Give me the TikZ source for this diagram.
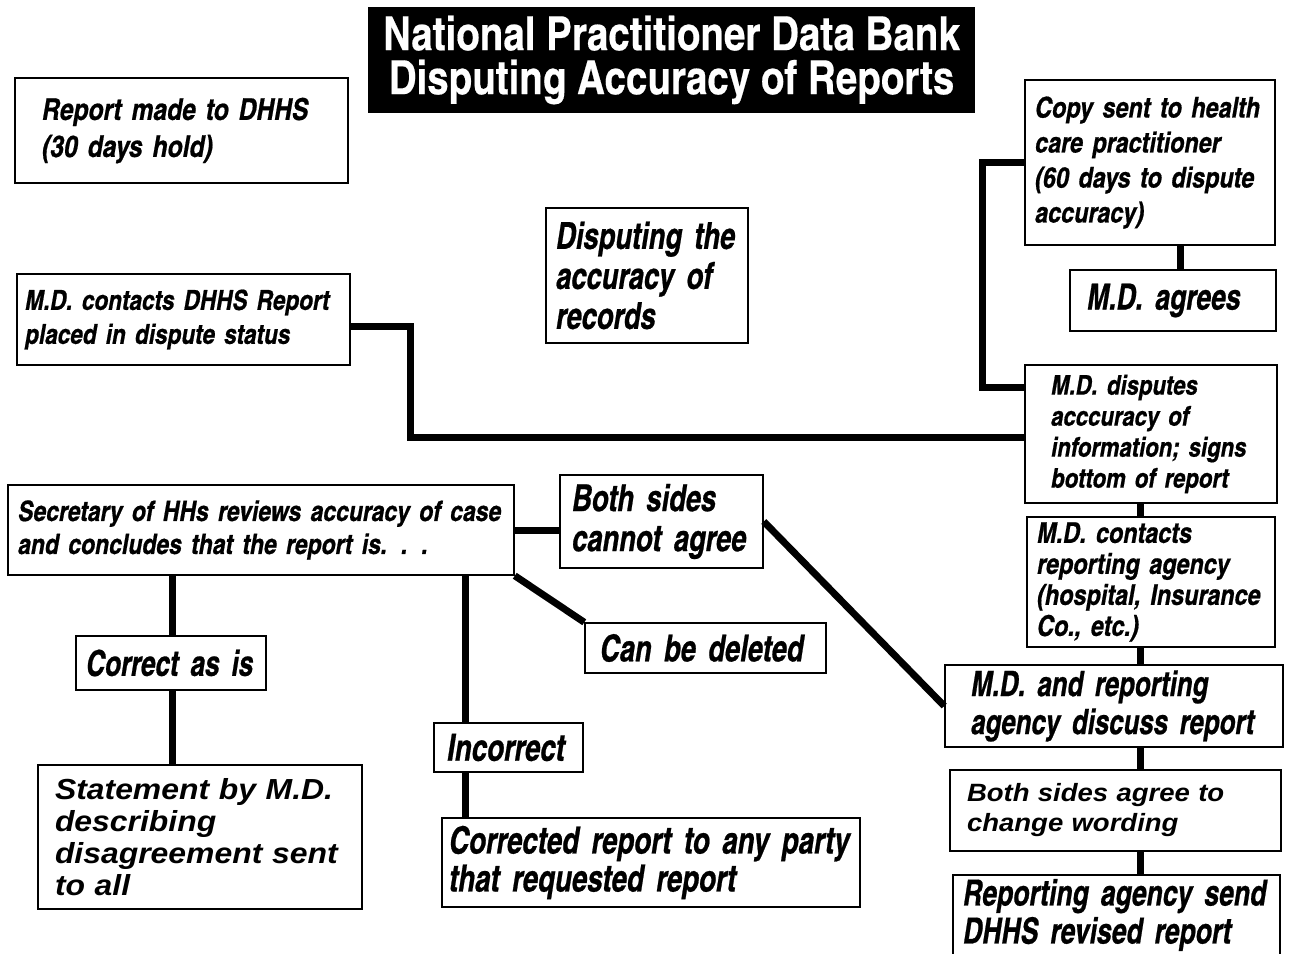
\documentclass[tikz,border=0pt]{standalone}
\usepackage{fontspec}
\newfontfamily\condit{texgyreheroscn-bolditalic.otf}[FakeBold=0.6]
\newfontfamily\condbig{texgyreheroscn-bolditalic.otf}[FakeStretch=0.9, FakeBold=0.6]
\newfontfamily\condup{texgyreheroscn-bold.otf}[FakeBold=0.4]
\newfontfamily\wideit{Liberation Sans Bold Italic}[FakeStretch=1.1]
\tikzset{
  box/.style={draw, line width=1.5pt, align=left, inner ysep=2pt},
  sm/.style 2 args={font=\condit\fontsize{#1}{#2}\selectfont},
  lg/.style 2 args={font=\condbig\fontsize{#1}{#2}\selectfont},
  wd/.style 2 args={font=\wideit\fontsize{#1}{#2}\selectfont},
  link/.style={line width=7pt},
}
\begin{document}
\begin{tikzpicture}[x=1pt, y=-1pt]
      \useasboundingbox (0,0) rectangle (1289,953);
      \node (title)[fill=black, text=white, align=center, minimum width=607, minimum height=106, font=\condup\fontsize{47}{44}\selectfont] at (671.5,60) {National Practitioner Data Bank\\Disputing Accuracy of Reports};
      % left column
      \node (rep)[box, sm={30}{37}, inner xsep=27, text width=279, minimum height=105] at (181.5,130.5) {Report made to DHHS\\(30 days hold)};
      \node (mdc)[box, sm={27.5}{34}, inner xsep=8, text width=317, minimum height=91] at (183.5,319.5) {M.D. contacts DHHS Report\\placed in dispute status};
      \node (dis)[box, lg={37}{40}, inner xsep=10, text width=182, minimum height=135] at (647,275.5) {Disputing the\\accuracy of\\records};
      % right column
      \node (copy)[box, sm={28.5}{35}, inner xsep=10, text width=230, minimum height=165] at (1150,162.5) {Copy sent to health\\care practitioner\\(60 days to dispute\\accuracy)};
      \node (agr)[box, lg={36}{38}, inner xsep=17, text width=172, minimum height=61] at (1173,300.5) {M.D. agrees};
      \node (mdd)[box, sm={27}{31}, inner xsep=26, text width=200, minimum height=138] at (1151,434) {M.D. disputes\\acccuracy of\\information; signs\\bottom of report};
      \node (mdr)[box, sm={28.5}{31}, inner xsep=10, text width=228, minimum height=130] at (1151,582) {M.D. contacts\\reporting agency\\(hospital, Insurance\\Co., etc.)};
      \node (dsc)[box, lg={35}{38}, inner xsep=26, text width=286, minimum height=82] at (1114,706) {M.D. and reporting\\agency discuss report};
      \node (bsa)[box, wd={25}{30}, inner xsep=17, text width=297, minimum height=81] at (1115.5,810.5) {Both sides agree to\\change wording};
      \node (rev)[box, lg={36}{38}, inner xsep=10, text width=307, minimum height=80] at (1116.5,915) {Reporting agency send\\DHHS revised report};
      % review branch
      \node (sec)[box, sm={28}{33}, inner xsep=10, text width=486, minimum height=90] at (261,530) {Secretary of HHs reviews accuracy of case\\and concludes that the report is. . .};
      \node (bsc)[box, lg={37}{40}, inner xsep=12, text width=179, minimum height=93] at (661.5,521.5) {Both sides\\cannot agree};
      \node (del)[box, lg={37}{40}, inner xsep=15, text width=211, minimum height=50] at (705.5,648) {Can be deleted};
      \node (cai)[box, lg={35.5}{40}, inner xsep=10, text width=170, minimum height=54] at (171,663) {Correct as is};
      \node (stm)[box, wd={29}{32}, inner xsep=17, text width=290, minimum height=144] at (200,837) {Statement by M.D.\\describing\\disagreement sent\\to all};
      \node (inc)[box, lg={37.5}{40}, inner xsep=13, text width=123, minimum height=49] at (508.5,747.5) {Incorrect};
      \node (crr)[box, lg={37.5}{38}, inner xsep=7, text width=404, minimum height=89] at (651,862.5) {Corrected report to any party\\that requested report};
      \coordinate (spine) at (1140,0);
      \coordinate (left) at (172,0);
      \coordinate (mid) at (465,0);
      \coordinate (agree) at (1180,0);
      % connectors
      \draw[link] ([yshift=-7pt]mdc.east) -- ++(60,0) |- ([yshift=-3pt]mdd.west);
      \draw[link] (copy.west) -- ++(-42,0) |- ([yshift=-23pt]mdd.north west);
      \draw[link] (copy.south -| agree) -- (agr.north -| agree);
      \draw[link] (mdd.south -| spine) -- (mdr.north -| spine);
      \draw[link] (mdr.south -| spine) -- (dsc.north -| spine);
      \draw[link] (dsc.south -| spine) -- (bsa.north -| spine);
      \draw[link] (bsa.south -| spine) -- (rev.north -| spine);
      \draw[link] (sec.east) -- (sec.east -| bsc.west);
      \draw[link] (bsc.east) -- (dsc.west);
      \draw[link] (sec.south east) -- (del.north west);
      \draw[link] (sec.south -| left) -- (cai.north -| left);
      \draw[link] (cai.south -| left) -- (stm.north -| left);
      \draw[link] (sec.south -| mid) -- (inc.north -| mid);
      \draw[link] (inc.south -| mid) -- (crr.north -| mid);
\end{tikzpicture}
\end{document}
